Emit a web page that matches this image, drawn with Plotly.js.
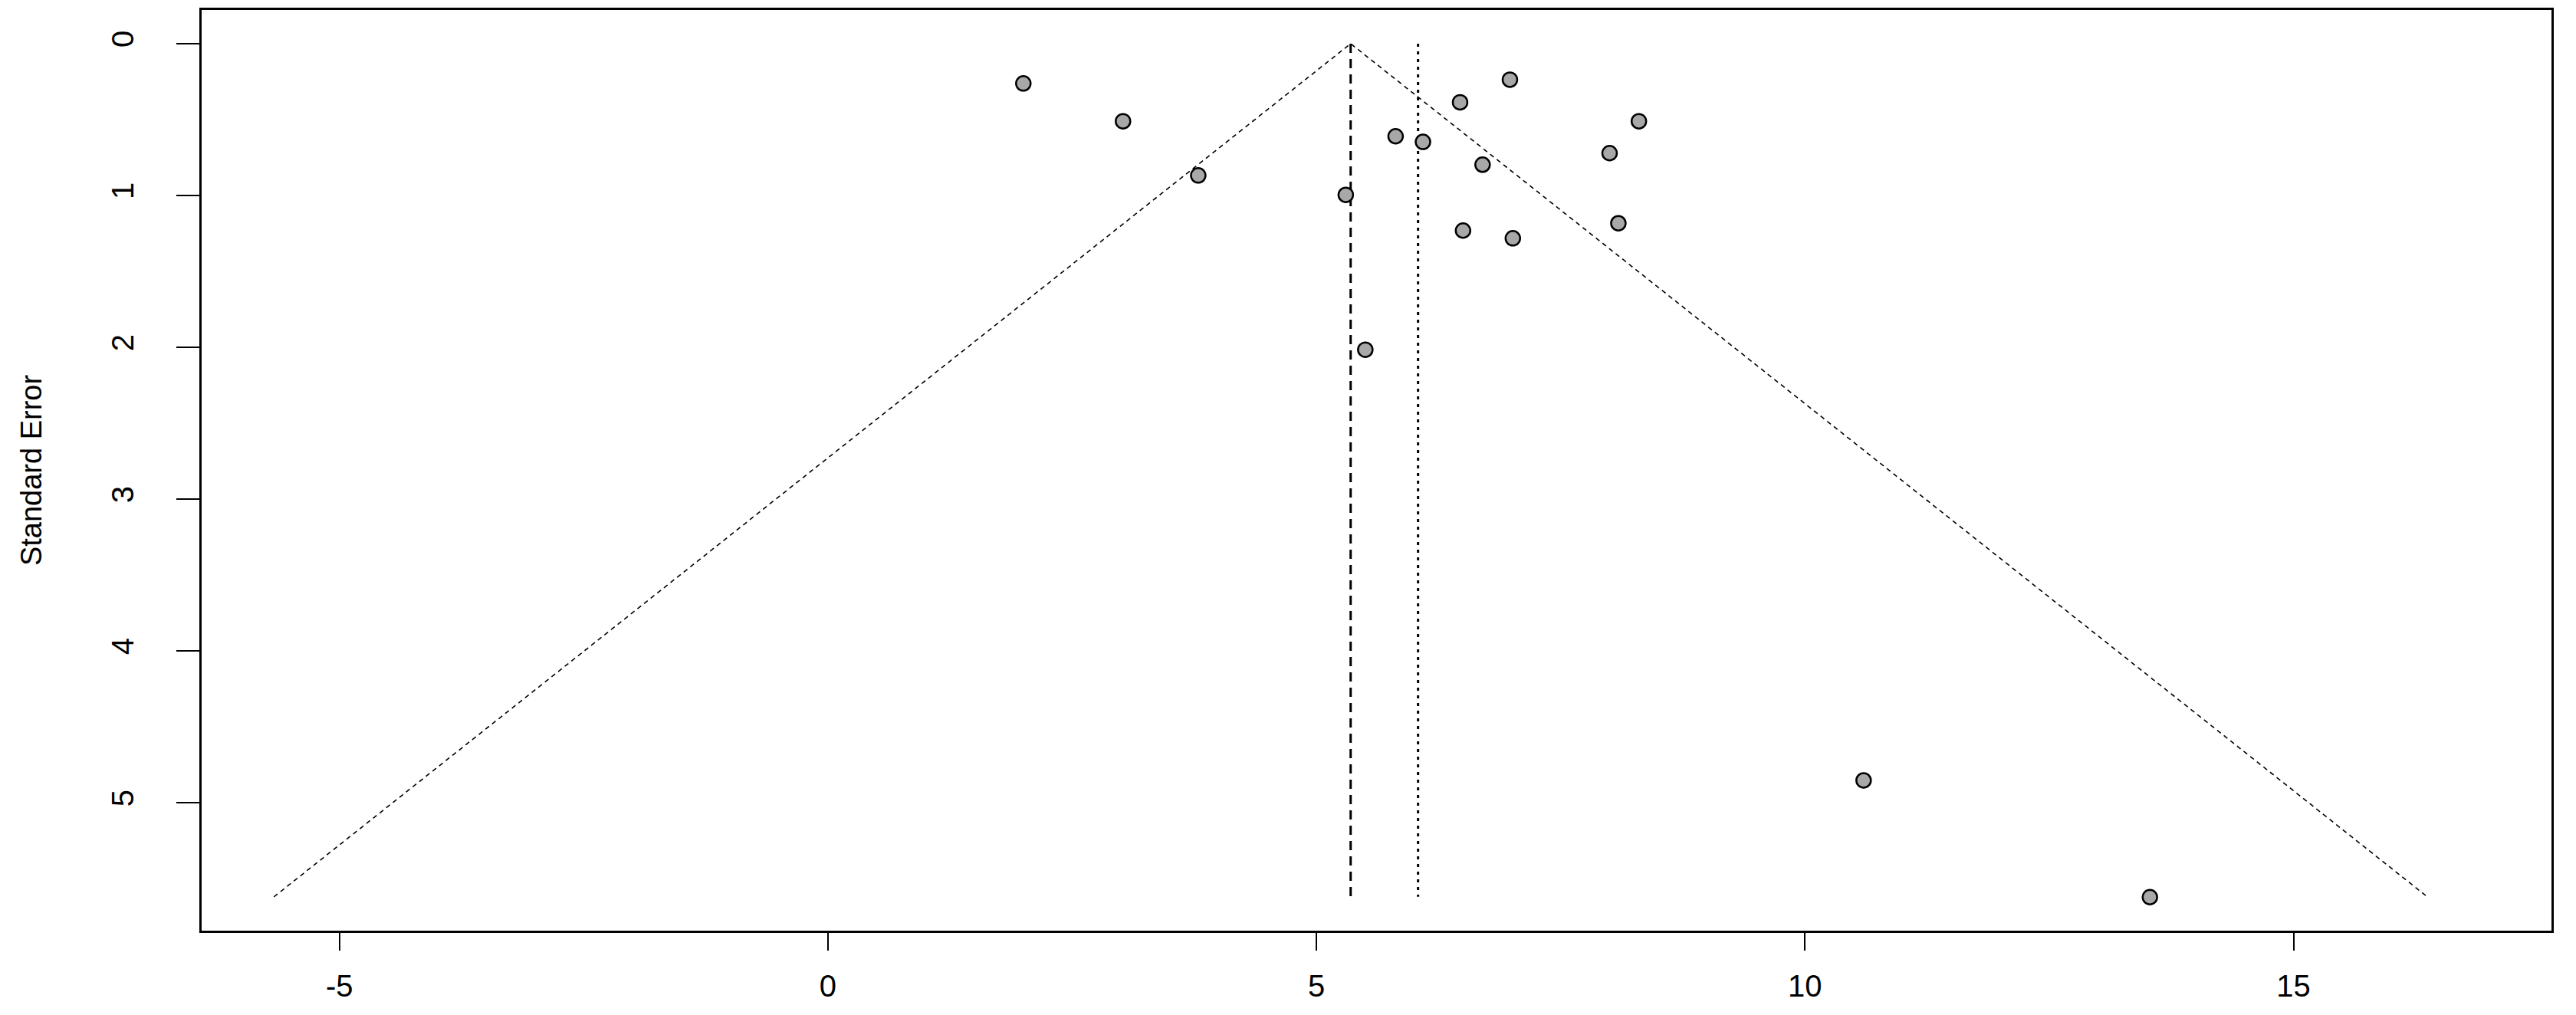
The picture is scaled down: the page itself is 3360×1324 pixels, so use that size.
<!DOCTYPE html>
<html>
<head>
<meta charset="utf-8">
<script src="https://cdn.plot.ly/plotly-3.0.1.min.js"></script>
<style>html,body{margin:0;padding:0;background:#fff;}#chart{width:3360px;height:1324px;}</style>
</head>
<body>
<div id="chart"></div>
<script>
// Study effect estimates (x) and their standard errors (y)
const effect = [2.00, 3.02, 3.79, 5.30, 5.81, 6.09, 6.47, 6.98, 6.70, 8.30, 8.00, 6.50, 7.01, 8.09, 5.50, 10.60, 13.53];
const stdErr = [0.262, 0.511, 0.868, 0.996, 0.610, 0.647, 0.386, 0.237, 0.797, 0.511, 0.721, 1.231, 1.282, 1.183, 2.016, 4.853, 5.622];

// Pooled estimates (common = dashed, random = dotted) and max SE
const commonEffect = 5.35;
const randomEffect = 6.04;
const maxSE = 5.62;

// Pseudo 95% confidence funnel
const funnelX = [-5.67, 5.35, 16.37];
const funnelY = [5.62, 0, 5.62];

const xTicks = [-5, 0, 5, 10, 15];
const xTickLabels = ['-5', '0', '5', '10', '15'];
const yTicks = [0, 1, 2, 3, 4, 5];
const yTickLabels = ['0', '1', '2', '3', '4', '5'];

const font = {family: 'Liberation Sans, Arial, sans-serif', size: 40, color: '#000'};

const traces = [
  {x: funnelX, y: funnelY, type: 'scatter', mode: 'lines',
   line: {color: '#000', width: 1.6, dash: '6px,5px'}, hoverinfo: 'skip', showlegend: false},
  {x: [commonEffect, commonEffect], y: [0, maxSE], type: 'scatter', mode: 'lines',
   line: {color: '#000', width: 3, dash: '12px,8px'}, hoverinfo: 'skip', showlegend: false},
  {x: [randomEffect, randomEffect], y: [0, maxSE], type: 'scatter', mode: 'lines',
   line: {color: '#000', width: 3, dash: '4px,6px'}, hoverinfo: 'skip', showlegend: false},
  {x: effect, y: stdErr, type: 'scatter', mode: 'markers',
   marker: {symbol: 'circle', size: 19, color: '#a8a8a8', line: {color: '#000', width: 2.5}},
   showlegend: false}
];

const layout = {
  width: 3360, height: 1324,
  margin: {l: 263, r: 32, t: 13, b: 110, pad: 0},
  paper_bgcolor: '#fff', plot_bgcolor: '#fff',
  font: font,
  showlegend: false,
  xaxis: {
    range: [-6.41, 17.64], tickmode: 'array', tickvals: xTicks, ticktext: xTickLabels,
    ticks: 'outside', ticklen: 23, tickwidth: 2, tickcolor: '#000',
    showgrid: false, zeroline: false, showline: true, mirror: true,
    linecolor: '#000', linewidth: 3, tickfont: font, ticklabelstandoff: 12
  },
  yaxis: {
    range: [5.843, -0.222], tickmode: 'array', tickvals: yTicks, ticktext: yTickLabels, tickangle: -90,
    ticks: 'outside', ticklen: 30, tickwidth: 2, tickcolor: '#000',
    showgrid: false, zeroline: false, showline: true, mirror: true,
    linecolor: '#000', linewidth: 3, tickfont: font, ticklabelstandoff: 40,
    title: {text: 'Standard Error', font: {family: 'Liberation Sans, Arial, sans-serif', size: 38, color: '#000'}, standoff: 72}
  }
};

Plotly.newPlot('chart', traces, layout, {staticPlot: true, displayModeBar: false});
</script>
</body>
</html>
